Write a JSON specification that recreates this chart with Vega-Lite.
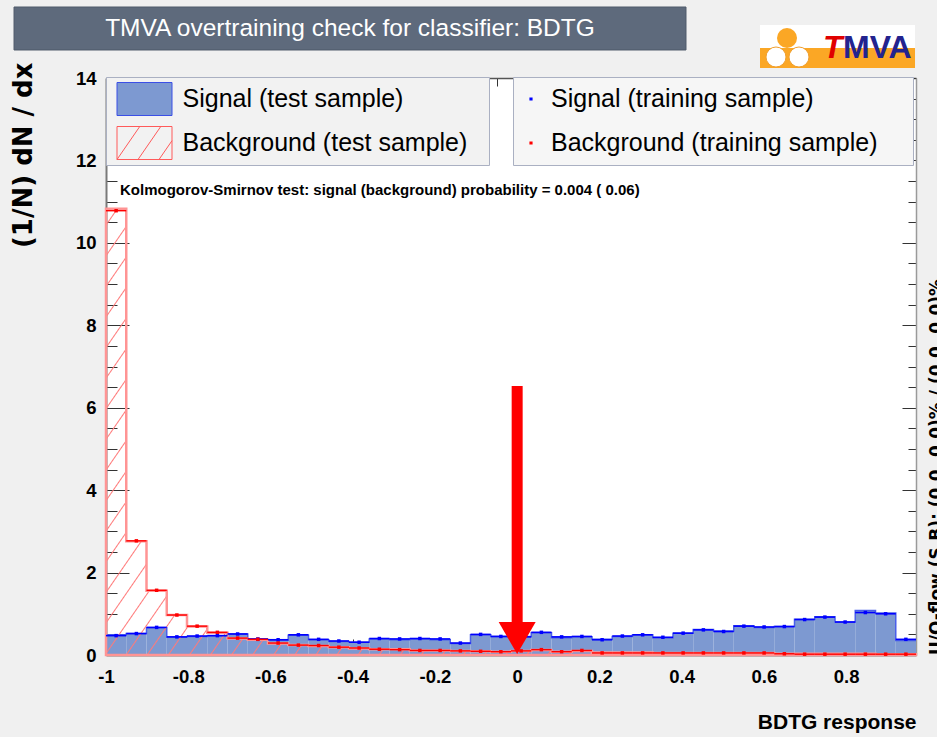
{
  "$schema": "https://vega.github.io/schema/vega-lite/v6.json",
  "width": 810,
  "height": 577,
  "autosize": "none",
  "padding": {"left": 106, "top": 78, "right": 21, "bottom": 82},
  "background": "#f0f0f0",
  "datasets": {
    "bins": [
      {"c": -0.97538, "lo": -1, "hi": -0.95075, "sig": 0.49, "bkg": 10.83, "sigTr": 0.47, "bkgTr": 10.78},
      {"c": -0.92613, "lo": -0.95075, "hi": -0.9015, "sig": 0.52, "bkg": 2.76, "sigTr": 0.52, "bkgTr": 2.77},
      {"c": -0.87688, "lo": -0.9015, "hi": -0.85225, "sig": 0.66, "bkg": 1.56, "sigTr": 0.67, "bkgTr": 1.57},
      {"c": -0.82763, "lo": -0.85225, "hi": -0.803, "sig": 0.43, "bkg": 0.97, "sigTr": 0.44, "bkgTr": 0.97},
      {"c": -0.77838, "lo": -0.803, "hi": -0.75375, "sig": 0.45, "bkg": 0.69, "sigTr": 0.46, "bkgTr": 0.70},
      {"c": -0.72913, "lo": -0.75375, "hi": -0.7045, "sig": 0.47, "bkg": 0.54, "sigTr": 0.47, "bkgTr": 0.55},
      {"c": -0.67988, "lo": -0.7045, "hi": -0.65525, "sig": 0.51, "bkg": 0.40, "sigTr": 0.51, "bkgTr": 0.41},
      {"c": -0.63063, "lo": -0.65525, "hi": -0.606, "sig": 0.37, "bkg": 0.37, "sigTr": 0.39, "bkgTr": 0.38},
      {"c": -0.58138, "lo": -0.606, "hi": -0.55675, "sig": 0.36, "bkg": 0.28, "sigTr": 0.37, "bkgTr": 0.29},
      {"c": -0.53213, "lo": -0.55675, "hi": -0.5075, "sig": 0.48, "bkg": 0.24, "sigTr": 0.49, "bkgTr": 0.24},
      {"c": -0.48288, "lo": -0.5075, "hi": -0.45825, "sig": 0.37, "bkg": 0.22, "sigTr": 0.38, "bkgTr": 0.23},
      {"c": -0.43363, "lo": -0.45825, "hi": -0.409, "sig": 0.33, "bkg": 0.19, "sigTr": 0.34, "bkgTr": 0.19},
      {"c": -0.38438, "lo": -0.409, "hi": -0.35975, "sig": 0.31, "bkg": 0.16, "sigTr": 0.31, "bkgTr": 0.17},
      {"c": -0.33513, "lo": -0.35975, "hi": -0.3105, "sig": 0.39, "bkg": 0.14, "sigTr": 0.40, "bkgTr": 0.14},
      {"c": -0.28588, "lo": -0.3105, "hi": -0.26125, "sig": 0.37, "bkg": 0.14, "sigTr": 0.39, "bkgTr": 0.13},
      {"c": -0.23663, "lo": -0.26125, "hi": -0.212, "sig": 0.39, "bkg": 0.11, "sigTr": 0.40, "bkgTr": 0.11},
      {"c": -0.18738, "lo": -0.212, "hi": -0.16275, "sig": 0.37, "bkg": 0.11, "sigTr": 0.39, "bkgTr": 0.11},
      {"c": -0.13813, "lo": -0.16275, "hi": -0.1135, "sig": 0.28, "bkg": 0.10, "sigTr": 0.29, "bkgTr": 0.10},
      {"c": -0.08888, "lo": -0.1135, "hi": -0.06425, "sig": 0.49, "bkg": 0.09, "sigTr": 0.50, "bkgTr": 0.09},
      {"c": -0.03963, "lo": -0.06425, "hi": -0.015, "sig": 0.45, "bkg": 0.08, "sigTr": 0.45, "bkgTr": 0.08},
      {"c": 0.00963, "lo": -0.015, "hi": 0.03425, "sig": 0.45, "bkg": 0.10, "sigTr": 0.44, "bkgTr": 0.10},
      {"c": 0.05888, "lo": 0.03425, "hi": 0.0835, "sig": 0.54, "bkg": 0.12, "sigTr": 0.55, "bkgTr": 0.13},
      {"c": 0.10813, "lo": 0.0835, "hi": 0.13275, "sig": 0.42, "bkg": 0.08, "sigTr": 0.44, "bkgTr": 0.08},
      {"c": 0.15738, "lo": 0.13275, "hi": 0.182, "sig": 0.44, "bkg": 0.10, "sigTr": 0.45, "bkgTr": 0.11},
      {"c": 0.20663, "lo": 0.182, "hi": 0.23125, "sig": 0.38, "bkg": 0.06, "sigTr": 0.37, "bkgTr": 0.05},
      {"c": 0.25588, "lo": 0.23125, "hi": 0.2805, "sig": 0.45, "bkg": 0.06, "sigTr": 0.46, "bkgTr": 0.05},
      {"c": 0.30513, "lo": 0.2805, "hi": 0.32975, "sig": 0.49, "bkg": 0.06, "sigTr": 0.49, "bkgTr": 0.05},
      {"c": 0.35438, "lo": 0.32975, "hi": 0.379, "sig": 0.42, "bkg": 0.05, "sigTr": 0.43, "bkgTr": 0.05},
      {"c": 0.40363, "lo": 0.379, "hi": 0.42825, "sig": 0.53, "bkg": 0.05, "sigTr": 0.53, "bkgTr": 0.05},
      {"c": 0.45288, "lo": 0.42825, "hi": 0.4775, "sig": 0.62, "bkg": 0.05, "sigTr": 0.61, "bkgTr": 0.05},
      {"c": 0.50213, "lo": 0.4775, "hi": 0.52675, "sig": 0.58, "bkg": 0.05, "sigTr": 0.57, "bkgTr": 0.05},
      {"c": 0.55138, "lo": 0.52675, "hi": 0.576, "sig": 0.71, "bkg": 0.05, "sigTr": 0.70, "bkgTr": 0.05},
      {"c": 0.60063, "lo": 0.576, "hi": 0.62525, "sig": 0.67, "bkg": 0.05, "sigTr": 0.68, "bkgTr": 0.05},
      {"c": 0.64988, "lo": 0.62525, "hi": 0.6745, "sig": 0.69, "bkg": 0.03, "sigTr": 0.69, "bkgTr": 0.03},
      {"c": 0.69913, "lo": 0.6745, "hi": 0.72375, "sig": 0.87, "bkg": 0.03, "sigTr": 0.86, "bkgTr": 0.02},
      {"c": 0.74838, "lo": 0.72375, "hi": 0.773, "sig": 0.93, "bkg": 0.03, "sigTr": 0.92, "bkgTr": 0.02},
      {"c": 0.79763, "lo": 0.773, "hi": 0.82225, "sig": 0.80, "bkg": 0.03, "sigTr": 0.80, "bkgTr": 0.02},
      {"c": 0.84688, "lo": 0.82225, "hi": 0.8715, "sig": 1.08, "bkg": 0.03, "sigTr": 1.03, "bkgTr": 0.02},
      {"c": 0.89613, "lo": 0.8715, "hi": 0.92075, "sig": 1.02, "bkg": 0.02, "sigTr": 1.00, "bkgTr": 0.02},
      {"c": 0.94538, "lo": 0.92075, "hi": 0.97, "sig": 0.35, "bkg": 0.02, "sigTr": 0.38, "bkgTr": 0.02}
    ]
  },
  "config": {
    "view": {"fill": "white", "stroke": null},
    "axis": {
      "grid": false,
      "tickColor": "#333333",
      "tickWidth": 1,
      "domainColor": "#7a7a7a",
      "domainWidth": 2,
      "labelColor": "#000000",
      "titleColor": "#000000",
      "zindex": 1
    }
  },
  "resolve": {"axis": {"x": "independent", "y": "independent"}},
  "layer": [
    {
      "data": {"name": "bins"},
      "mark": {"type": "rect"},
      "encoding": {
        "x": {
          "field": "lo", "type": "quantitative",
          "scale": {"domain": [-1, 0.97], "nice": false, "zero": false},
          "axis": {
            "orient": "bottom",
            "values": [-1, -0.95, -0.9, -0.85, -0.8, -0.75, -0.7, -0.65, -0.6, -0.55, -0.5, -0.45, -0.4, -0.35, -0.3, -0.25, -0.2, -0.15, -0.1, -0.05, 0, 0.05, 0.1, 0.15, 0.2, 0.25, 0.3, 0.35, 0.4, 0.45, 0.5, 0.55, 0.6, 0.65, 0.7, 0.75, 0.8, 0.85, 0.9, 0.95],
            "labelExpr": "abs(datum.value*5 - round(datum.value*5)) < 0.001 ? '' + round(datum.value*10)/10 : ''",
            "tickSize": {"condition": {"test": "abs(datum.value*5 - round(datum.value*5)) < 0.001", "value": -16}, "value": -8},
            "labelFont": "Liberation Sans",
            "labelFontSize": 18.5,
            "labelFontWeight": "bold",
            "labelPadding": 28,
            "labelOverlap": false,
            "labelFlush": false,
            "title": "BDTG response",
            "titleFont": "Liberation Sans",
            "titleFontSize": 21,
            "titleFontWeight": "bold",
            "titleAnchor": "end",
            "titleAlign": "right",
            "titleBaseline": "alphabetic",
            "titleX": 810,
            "titleY": 73
          }
        },
        "x2": {"field": "hi"},
        "y": {
          "field": "sig", "type": "quantitative",
          "scale": {"domain": [0, 14], "nice": false, "zero": false},
          "axis": {
            "orient": "left",
            "values": [0, 0.5, 1, 1.5, 2, 2.5, 3, 3.5, 4, 4.5, 5, 5.5, 6, 6.5, 7, 7.5, 8, 8.5, 9, 9.5, 10, 10.5, 11, 11.5, 12, 12.5, 13, 13.5, 14],
            "labelExpr": "abs(datum.value/2 - round(datum.value/2)) < 0.001 ? '' + datum.value : ''",
            "tickSize": {"condition": {"test": "abs(datum.value/2 - round(datum.value/2)) < 0.001", "value": -23}, "value": -11},
            "labelFont": "Liberation Sans",
            "labelFontSize": 18.5,
            "labelFontWeight": "bold",
            "labelPadding": 33,
            "labelOverlap": false,
            "labelFlush": false,
            "title": "(1/N) dN / dx",
            "titleFont": "DejaVu Sans",
            "titleFontSize": 26,
            "titleFontWeight": "bold",
            "titleAngle": 270,
            "titleAlign": "right",
            "titleBaseline": "bottom",
            "titleX": -70,
            "titleY": -16
          }
        },
        "y2": {"datum": 0},
        "fill": {
          "datum": "Signal (test sample)", "type": "nominal",
          "scale": {"domain": ["Signal (test sample)", "Background (test sample)"], "range": ["#7d99d1", "rgba(0,0,0,0)"]},
          "legend": {
            "orient": "none", "legendX": 0, "legendY": -1, "direction": "vertical", "title": null,
            "padding": 0, "clipHeight": 44, "rowPadding": 0,
            "symbolType": "M-1,-0.6H1V0.6H-1Z", "symbolSize": 3025, "symbolOffset": 10.5, "labelOffset": 10,
            "labelFont": "Liberation Sans",
            "labelFontSize": 25, "labelColor": "#000000", "labelLimit": 700,
            "labelExpr": "datum.label + '\u00a0\u00a0\u00a0\u200b'",
            "fillColor": "#f2f2f2", "strokeColor": "#aab0c2",
            "encoding": {
              "symbols": {
                "fill": {
                  "condition": {"test": "datum.value === 'Signal (test sample)'", "value": "#7d99d1"},
                  "value": "rgba(0,0,0,0)"
                },
                "stroke": {
                  "condition": {"test": "datum.value === 'Signal (test sample)'", "value": "#3b4fe6"},
                  "value": "#ff5a5a"
                },
                "shape": {
                  "condition": {"test": "datum.value === 'Signal (test sample)'", "value": "M-1,-0.6H1V0.6H-1Z"},
                  "value": "M-1,-0.6H1V0.6H-1Z M-1,0.6L-0.1724,-0.6 M-0.236,0.6L0.5916,-0.6 M0.528,0.6L1,-0.0844"
                },
                "strokeWidth": {"value": 1},
                "opacity": {"value": 1}
              }
            }
          }
        }
      }
    },
    {
      "data": {"name": "bins"},
      "transform": [{"fold": ["lo", "hi"], "as": ["edge", "ex"]}],
      "mark": {"type": "line", "stroke": "#4a5fea", "strokeWidth": 1.5, "interpolate": "linear"},
      "encoding": {
        "x": {"field": "ex", "type": "quantitative", "scale": {"domain": [-1, 0.97], "nice": false, "zero": false}, "axis": null},
        "y": {"field": "sig", "type": "quantitative", "scale": {"domain": [0, 14], "nice": false, "zero": false}, "axis": null},
        "order": {"value": null}
      }
    },
    {
      "data": {"name": "bins"},
      "transform": [{"fold": ["lo", "hi"], "as": ["edge", "ex"]}],
      "mark": {
        "type": "area", "interpolate": "linear", "stroke": null,
        "fill": {"gradient": "linear", "x1": 0, "y1": 0, "x2": 1.2058, "y2": 0.458, "stops": [
          {"offset": 0.0, "color": "rgba(255,120,120,0)"},
          {"offset": 0.0091, "color": "rgba(255,120,120,0)"}, {"offset": 0.0102, "color": "#ff7a7a"}, {"offset": 0.0113, "color": "rgba(255,120,120,0)"},
          {"offset": 0.0280, "color": "rgba(255,120,120,0)"}, {"offset": 0.0291, "color": "#ff7a7a"}, {"offset": 0.0302, "color": "rgba(255,120,120,0)"},
          {"offset": 0.0469, "color": "rgba(255,120,120,0)"}, {"offset": 0.0480, "color": "#ff7a7a"}, {"offset": 0.0491, "color": "rgba(255,120,120,0)"},
          {"offset": 0.0657, "color": "rgba(255,120,120,0)"}, {"offset": 0.0668, "color": "#ff7a7a"}, {"offset": 0.0679, "color": "rgba(255,120,120,0)"},
          {"offset": 0.0846, "color": "rgba(255,120,120,0)"}, {"offset": 0.0857, "color": "#ff7a7a"}, {"offset": 0.0868, "color": "rgba(255,120,120,0)"},
          {"offset": 0.1035, "color": "rgba(255,120,120,0)"}, {"offset": 0.1046, "color": "#ff7a7a"}, {"offset": 0.1057, "color": "rgba(255,120,120,0)"},
          {"offset": 0.1223, "color": "rgba(255,120,120,0)"}, {"offset": 0.1234, "color": "#ff7a7a"}, {"offset": 0.1245, "color": "rgba(255,120,120,0)"},
          {"offset": 0.1412, "color": "rgba(255,120,120,0)"}, {"offset": 0.1423, "color": "#ff7a7a"}, {"offset": 0.1434, "color": "rgba(255,120,120,0)"},
          {"offset": 0.1601, "color": "rgba(255,120,120,0)"}, {"offset": 0.1612, "color": "#ff7a7a"}, {"offset": 0.1623, "color": "rgba(255,120,120,0)"},
          {"offset": 0.1790, "color": "rgba(255,120,120,0)"}, {"offset": 0.1801, "color": "#ff7a7a"}, {"offset": 0.1812, "color": "rgba(255,120,120,0)"},
          {"offset": 0.1978, "color": "rgba(255,120,120,0)"}, {"offset": 0.1989, "color": "#ff7a7a"}, {"offset": 0.2000, "color": "rgba(255,120,120,0)"},
          {"offset": 0.2167, "color": "rgba(255,120,120,0)"}, {"offset": 0.2178, "color": "#ff7a7a"}, {"offset": 0.2189, "color": "rgba(255,120,120,0)"},
          {"offset": 0.2356, "color": "rgba(255,120,120,0)"}, {"offset": 0.2367, "color": "#ff7a7a"}, {"offset": 0.2378, "color": "rgba(255,120,120,0)"},
          {"offset": 0.2544, "color": "rgba(255,120,120,0)"}, {"offset": 0.2555, "color": "#ff7a7a"}, {"offset": 0.2566, "color": "rgba(255,120,120,0)"},
          {"offset": 0.2733, "color": "rgba(255,120,120,0)"}, {"offset": 0.2744, "color": "#ff7a7a"}, {"offset": 0.2755, "color": "rgba(255,120,120,0)"},
          {"offset": 0.2922, "color": "rgba(255,120,120,0)"}, {"offset": 0.2933, "color": "#ff7a7a"}, {"offset": 0.2944, "color": "rgba(255,120,120,0)"},
          {"offset": 0.3110, "color": "rgba(255,120,120,0)"}, {"offset": 0.3121, "color": "#ff7a7a"}, {"offset": 0.3132, "color": "rgba(255,120,120,0)"},
          {"offset": 0.3299, "color": "rgba(255,120,120,0)"}, {"offset": 0.3310, "color": "#ff7a7a"}, {"offset": 0.3321, "color": "rgba(255,120,120,0)"},
          {"offset": 0.3488, "color": "rgba(255,120,120,0)"}, {"offset": 0.3499, "color": "#ff7a7a"}, {"offset": 0.3510, "color": "rgba(255,120,120,0)"},
          {"offset": 0.3676, "color": "rgba(255,120,120,0)"}, {"offset": 0.3687, "color": "#ff7a7a"}, {"offset": 0.3698, "color": "rgba(255,120,120,0)"},
          {"offset": 0.3865, "color": "rgba(255,120,120,0)"}, {"offset": 0.3876, "color": "#ff7a7a"}, {"offset": 0.3887, "color": "rgba(255,120,120,0)"},
          {"offset": 0.4054, "color": "rgba(255,120,120,0)"}, {"offset": 0.4065, "color": "#ff7a7a"}, {"offset": 0.4076, "color": "rgba(255,120,120,0)"},
          {"offset": 0.4242, "color": "rgba(255,120,120,0)"}, {"offset": 0.4253, "color": "#ff7a7a"}, {"offset": 0.4264, "color": "rgba(255,120,120,0)"},
          {"offset": 0.4431, "color": "rgba(255,120,120,0)"}, {"offset": 0.4442, "color": "#ff7a7a"}, {"offset": 0.4453, "color": "rgba(255,120,120,0)"},
          {"offset": 0.4620, "color": "rgba(255,120,120,0)"}, {"offset": 0.4631, "color": "#ff7a7a"}, {"offset": 0.4642, "color": "rgba(255,120,120,0)"},
          {"offset": 0.4808, "color": "rgba(255,120,120,0)"}, {"offset": 0.4819, "color": "#ff7a7a"}, {"offset": 0.4830, "color": "rgba(255,120,120,0)"},
          {"offset": 0.4997, "color": "rgba(255,120,120,0)"}, {"offset": 0.5008, "color": "#ff7a7a"}, {"offset": 0.5019, "color": "rgba(255,120,120,0)"},
          {"offset": 0.5186, "color": "rgba(255,120,120,0)"}, {"offset": 0.5197, "color": "#ff7a7a"}, {"offset": 0.5208, "color": "rgba(255,120,120,0)"},
          {"offset": 0.5374, "color": "rgba(255,120,120,0)"}, {"offset": 0.5385, "color": "#ff7a7a"}, {"offset": 0.5396, "color": "rgba(255,120,120,0)"},
          {"offset": 0.5563, "color": "rgba(255,120,120,0)"}, {"offset": 0.5574, "color": "#ff7a7a"}, {"offset": 0.5585, "color": "rgba(255,120,120,0)"},
          {"offset": 0.5752, "color": "rgba(255,120,120,0)"}, {"offset": 0.5763, "color": "#ff7a7a"}, {"offset": 0.5774, "color": "rgba(255,120,120,0)"},
          {"offset": 0.5940, "color": "rgba(255,120,120,0)"}, {"offset": 0.5951, "color": "#ff7a7a"}, {"offset": 0.5962, "color": "rgba(255,120,120,0)"},
          {"offset": 0.6129, "color": "rgba(255,120,120,0)"}, {"offset": 0.6140, "color": "#ff7a7a"}, {"offset": 0.6151, "color": "rgba(255,120,120,0)"},
          {"offset": 0.6318, "color": "rgba(255,120,120,0)"}, {"offset": 0.6329, "color": "#ff7a7a"}, {"offset": 0.6340, "color": "rgba(255,120,120,0)"},
          {"offset": 0.6507, "color": "rgba(255,120,120,0)"}, {"offset": 0.6518, "color": "#ff7a7a"}, {"offset": 0.6529, "color": "rgba(255,120,120,0)"},
          {"offset": 0.6695, "color": "rgba(255,120,120,0)"}, {"offset": 0.6706, "color": "#ff7a7a"}, {"offset": 0.6717, "color": "rgba(255,120,120,0)"},
          {"offset": 0.6884, "color": "rgba(255,120,120,0)"}, {"offset": 0.6895, "color": "#ff7a7a"}, {"offset": 0.6906, "color": "rgba(255,120,120,0)"},
          {"offset": 0.7073, "color": "rgba(255,120,120,0)"}, {"offset": 0.7084, "color": "#ff7a7a"}, {"offset": 0.7095, "color": "rgba(255,120,120,0)"},
          {"offset": 0.7261, "color": "rgba(255,120,120,0)"}, {"offset": 0.7272, "color": "#ff7a7a"}, {"offset": 0.7283, "color": "rgba(255,120,120,0)"},
          {"offset": 0.7450, "color": "rgba(255,120,120,0)"}, {"offset": 0.7461, "color": "#ff7a7a"}, {"offset": 0.7472, "color": "rgba(255,120,120,0)"},
          {"offset": 0.7639, "color": "rgba(255,120,120,0)"}, {"offset": 0.7650, "color": "#ff7a7a"}, {"offset": 0.7661, "color": "rgba(255,120,120,0)"},
          {"offset": 0.7827, "color": "rgba(255,120,120,0)"}, {"offset": 0.7838, "color": "#ff7a7a"}, {"offset": 0.7849, "color": "rgba(255,120,120,0)"},
          {"offset": 0.8016, "color": "rgba(255,120,120,0)"}, {"offset": 0.8027, "color": "#ff7a7a"}, {"offset": 0.8038, "color": "rgba(255,120,120,0)"},
          {"offset": 0.8205, "color": "rgba(255,120,120,0)"}, {"offset": 0.8216, "color": "#ff7a7a"}, {"offset": 0.8227, "color": "rgba(255,120,120,0)"},
          {"offset": 0.8393, "color": "rgba(255,120,120,0)"}, {"offset": 0.8404, "color": "#ff7a7a"}, {"offset": 0.8415, "color": "rgba(255,120,120,0)"},
          {"offset": 0.8582, "color": "rgba(255,120,120,0)"}, {"offset": 0.8593, "color": "#ff7a7a"}, {"offset": 0.8604, "color": "rgba(255,120,120,0)"},
          {"offset": 0.8771, "color": "rgba(255,120,120,0)"}, {"offset": 0.8782, "color": "#ff7a7a"}, {"offset": 0.8793, "color": "rgba(255,120,120,0)"},
          {"offset": 0.8959, "color": "rgba(255,120,120,0)"}, {"offset": 0.8970, "color": "#ff7a7a"}, {"offset": 0.8981, "color": "rgba(255,120,120,0)"},
          {"offset": 0.9148, "color": "rgba(255,120,120,0)"}, {"offset": 0.9159, "color": "#ff7a7a"}, {"offset": 0.9170, "color": "rgba(255,120,120,0)"},
          {"offset": 0.9337, "color": "rgba(255,120,120,0)"}, {"offset": 0.9348, "color": "#ff7a7a"}, {"offset": 0.9359, "color": "rgba(255,120,120,0)"},
          {"offset": 0.9525, "color": "rgba(255,120,120,0)"}, {"offset": 0.9536, "color": "#ff7a7a"}, {"offset": 0.9547, "color": "rgba(255,120,120,0)"},
          {"offset": 0.9714, "color": "rgba(255,120,120,0)"}, {"offset": 0.9725, "color": "#ff7a7a"}, {"offset": 0.9736, "color": "rgba(255,120,120,0)"},
          {"offset": 0.9903, "color": "rgba(255,120,120,0)"}, {"offset": 0.9914, "color": "#ff7a7a"}, {"offset": 0.9925, "color": "rgba(255,120,120,0)"},
          {"offset": 1.0, "color": "rgba(255,120,120,0)"}
        ]}
      },
      "encoding": {
        "x": {
          "field": "ex", "type": "quantitative",
          "scale": {"domain": [-1, 0.97], "nice": false, "zero": false},
          "axis": {
            "orient": "top",
            "values": [-1, -0.95, -0.9, -0.85, -0.8, -0.75, -0.7, -0.65, -0.6, -0.55, -0.5, -0.45, -0.4, -0.35, -0.3, -0.25, -0.2, -0.15, -0.1, -0.05, 0, 0.05, 0.1, 0.15, 0.2, 0.25, 0.3, 0.35, 0.4, 0.45, 0.5, 0.55, 0.6, 0.65, 0.7, 0.75, 0.8, 0.85, 0.9, 0.95],
            "labels": false,
            "title": null,
            "tickSize": {"condition": {"test": "abs(datum.value*5 - round(datum.value*5)) < 0.001", "value": -16}, "value": -8},
            "domainWidth": 1.5,
            "domainColor": "#555555"
          }
        },
        "y": {
          "field": "bkg", "type": "quantitative", "stack": null,
          "scale": {"domain": [0, 14], "nice": false, "zero": false},
          "axis": {
            "orient": "right",
            "values": [0, 0.5, 1, 1.5, 2, 2.5, 3, 3.5, 4, 4.5, 5, 5.5, 6, 6.5, 7, 7.5, 8, 8.5, 9, 9.5, 10, 10.5, 11, 11.5, 12, 12.5, 13, 13.5, 14],
            "labels": false,
            "title": null,
            "tickSize": {"condition": {"test": "abs(datum.value/2 - round(datum.value/2)) < 0.001", "value": -14}, "value": -8},
            "domainWidth": 1.5,
            "domainColor": "#9a9a9a"
          }
        },
        "order": {"value": null}
      }
    },
    {
      "data": {"name": "bins"},
      "transform": [{"fold": ["lo", "hi"], "as": ["edge", "ex"]}],
      "mark": {"type": "area", "interpolate": "linear", "stroke": "#ff9494", "strokeWidth": 2.5},
      "encoding": {
        "x": {"field": "ex", "type": "quantitative", "scale": {"domain": [-1, 0.97], "nice": false, "zero": false}, "axis": null},
        "y": {"field": "bkg", "type": "quantitative", "stack": null, "scale": {"domain": [0, 14], "nice": false, "zero": false}, "axis": null},
        "fill": {"datum": "Background (test sample)", "type": "nominal"},
        "order": {"value": null}
      }
    },
    {
      "data": {"name": "bins"},
      "mark": {"type": "rule", "color": "#0000ff", "strokeWidth": 1.6},
      "encoding": {
        "x": {"field": "lo", "type": "quantitative", "scale": {"domain": [-1, 0.97], "nice": false, "zero": false}, "axis": null},
        "x2": {"field": "hi"},
        "y": {"field": "sigTr", "type": "quantitative", "scale": {"domain": [0, 14], "nice": false, "zero": false}, "axis": null}
      }
    },
    {
      "data": {"name": "bins"},
      "mark": {"type": "rule", "color": "#ff0000", "strokeWidth": 1.4},
      "encoding": {
        "x": {"field": "lo", "type": "quantitative", "scale": {"domain": [-1, 0.97], "nice": false, "zero": false}, "axis": null},
        "x2": {"field": "hi"},
        "y": {"field": "bkgTr", "type": "quantitative", "scale": {"domain": [0, 14], "nice": false, "zero": false}, "axis": null}
      }
    },
    {
      "data": {"name": "bins"},
      "mark": {"type": "point", "shape": "square", "filled": true, "size": 12, "opacity": 1},
      "encoding": {
        "x": {"field": "c", "type": "quantitative", "scale": {"domain": [-1, 0.97], "nice": false, "zero": false}, "axis": null},
        "y": {"field": "sigTr", "type": "quantitative", "scale": {"domain": [0, 14], "nice": false, "zero": false}, "axis": null},
        "color": {
          "datum": "Signal (training sample)", "type": "nominal",
          "scale": {"domain": ["Signal (training sample)", "Background (training sample)"], "range": ["#0000ff", "#ff0000"]},
          "legend": {
            "orient": "none", "legendX": 407, "legendY": -1, "direction": "vertical", "title": null,
            "padding": 0, "clipHeight": 44, "rowPadding": 0,
            "symbolType": "square", "symbolSize": 10, "symbolOffset": 5.5, "labelOffset": 7.5,
            "symbolOpacity": 1,
            "labelFont": "Liberation Sans",
            "labelFontSize": 25, "labelColor": "#000000", "labelLimit": 700,
            "labelExpr": "datum.label + '\u00a0\u00a0\u00a0\u00a0\u00a0\u200b'",
            "fillColor": "#f6f6f6", "strokeColor": "#aab0c2"
          }
        }
      }
    },
    {
      "data": {"name": "bins"},
      "mark": {"type": "point", "shape": "square", "filled": true, "size": 12, "opacity": 1},
      "encoding": {
        "x": {"field": "c", "type": "quantitative", "scale": {"domain": [-1, 0.97], "nice": false, "zero": false}, "axis": null},
        "y": {"field": "bkgTr", "type": "quantitative", "scale": {"domain": [0, 14], "nice": false, "zero": false}, "axis": null},
        "color": {"datum": "Background (training sample)", "type": "nominal"}
      }
    },
    {
      "data": {"values": [{}]},
      "mark": {"type": "rule", "color": "#ff0000", "strokeWidth": 11, "strokeCap": "butt"},
      "encoding": {
        "x": {"datum": 0, "type": "quantitative", "axis": null},
        "y": {"datum": 6.527, "type": "quantitative", "axis": null},
        "y2": {"datum": 0.8}
      }
    },
    {
      "data": {"values": [{}]},
      "mark": {"type": "point", "shape": "triangle-down", "size": 1369, "filled": true, "color": "#ff0000", "opacity": 1},
      "encoding": {
        "x": {"datum": 0, "type": "quantitative", "axis": null},
        "y": {"datum": 0.41, "type": "quantitative", "axis": null}
      }
    },
    {
      "data": {"values": [{}]},
      "mark": {"type": "text", "text": "Kolmogorov-Smirnov test: signal (background) probability = 0.004 ( 0.06)", "font": "Liberation Sans", "fontSize": 15, "fontWeight": "bold", "color": "#000000", "align": "left", "baseline": "middle"},
      "encoding": {
        "x": {"datum": -0.966, "type": "quantitative", "axis": null},
        "y": {"datum": 11.283, "type": "quantitative", "axis": null}
      }
    },
    {
      "data": {"values": [{}]},
      "mark": {"type": "text", "text": "U/O-flow (S,B): (0.0, 0.0)% / (0.0, 0.0)%", "font": "DejaVu Sans", "fontSize": 17, "fontWeight": "bold", "color": "#000000", "align": "left", "baseline": "alphabetic", "angle": 270},
      "encoding": {
        "x": {"datum": 1.0332, "type": "quantitative", "axis": null},
        "y": {"datum": 0, "type": "quantitative", "axis": null}
      }
    },
    {
      "data": {"values": [{}]},
      "mark": {"type": "rect", "fill": "#5e6a7c", "stroke": "#4f5a6a", "strokeWidth": 1},
      "encoding": {
        "x": {"datum": -1.2237, "type": "quantitative", "axis": null},
        "x2": {"datum": 0.4106},
        "y": {"datum": 15.7227, "type": "quantitative", "axis": null},
        "y2": {"datum": 14.6794}
      }
    },
    {
      "data": {"values": [{}]},
      "mark": {"type": "text", "text": "TMVA overtraining check for classifier: BDTG", "font": "Liberation Sans", "fontSize": 24.5, "color": "#ffffff", "align": "center", "baseline": "middle"},
      "encoding": {
        "x": {"datum": -0.4066, "type": "quantitative", "axis": null},
        "y": {"datum": 15.19, "type": "quantitative", "axis": null}
      }
    },
    {
      "data": {"values": [{}]},
      "mark": {"type": "rect", "fill": "#ffffff"},
      "encoding": {
        "x": {"datum": 0.5906, "type": "quantitative", "axis": null},
        "x2": {"datum": 0.9676},
        "y": {"datum": 15.286, "type": "quantitative", "axis": null},
        "y2": {"datum": 14.2426}
      }
    },
    {
      "data": {"values": [{}]},
      "mark": {"type": "rect", "fill": "#fba725"},
      "encoding": {
        "x": {"datum": 0.5906, "type": "quantitative", "axis": null},
        "x2": {"datum": 0.9676},
        "y": {"datum": 14.728, "type": "quantitative", "axis": null},
        "y2": {"datum": 14.2426}
      }
    },
    {
      "data": {"values": [{}]},
      "mark": {"type": "point", "shape": "circle", "size": 400, "filled": true, "color": "#fba725", "opacity": 1},
      "encoding": {
        "x": {"datum": 0.6563, "type": "quantitative", "axis": null},
        "y": {"datum": 14.9705, "type": "quantitative", "axis": null}
      }
    },
    {
      "data": {"values": [{}]},
      "mark": {"type": "point", "shape": "circle", "size": 400, "filled": true, "fill": "#ffffff", "stroke": "#f0a030", "strokeWidth": 1, "opacity": 1},
      "encoding": {
        "x": {"datum": 0.6295, "type": "quantitative", "axis": null},
        "y": {"datum": 14.5095, "type": "quantitative", "axis": null}
      }
    },
    {
      "data": {"values": [{}]},
      "mark": {"type": "point", "shape": "circle", "size": 400, "filled": true, "fill": "#ffffff", "stroke": "#f0a030", "strokeWidth": 1, "opacity": 1},
      "encoding": {
        "x": {"datum": 0.6854, "type": "quantitative", "axis": null},
        "y": {"datum": 14.5095, "type": "quantitative", "axis": null}
      }
    },
    {
      "data": {"values": [{}]},
      "mark": {"type": "text", "text": "T", "font": "Liberation Sans", "fontSize": 32, "fontWeight": "bold", "fontStyle": "italic", "color": "#e00000", "align": "left", "baseline": "alphabetic"},
      "encoding": {
        "x": {"datum": 0.7438, "type": "quantitative", "axis": null},
        "y": {"datum": 14.4853, "type": "quantitative", "axis": null}
      }
    },
    {
      "data": {"values": [{}]},
      "mark": {"type": "text", "text": "MVA", "font": "Liberation Sans", "fontSize": 32, "fontWeight": "bold", "color": "#23238e", "align": "left", "baseline": "alphabetic"},
      "encoding": {
        "x": {"datum": 0.7924, "type": "quantitative", "axis": null},
        "y": {"datum": 14.4853, "type": "quantitative", "axis": null}
      }
    }
  ]
}
